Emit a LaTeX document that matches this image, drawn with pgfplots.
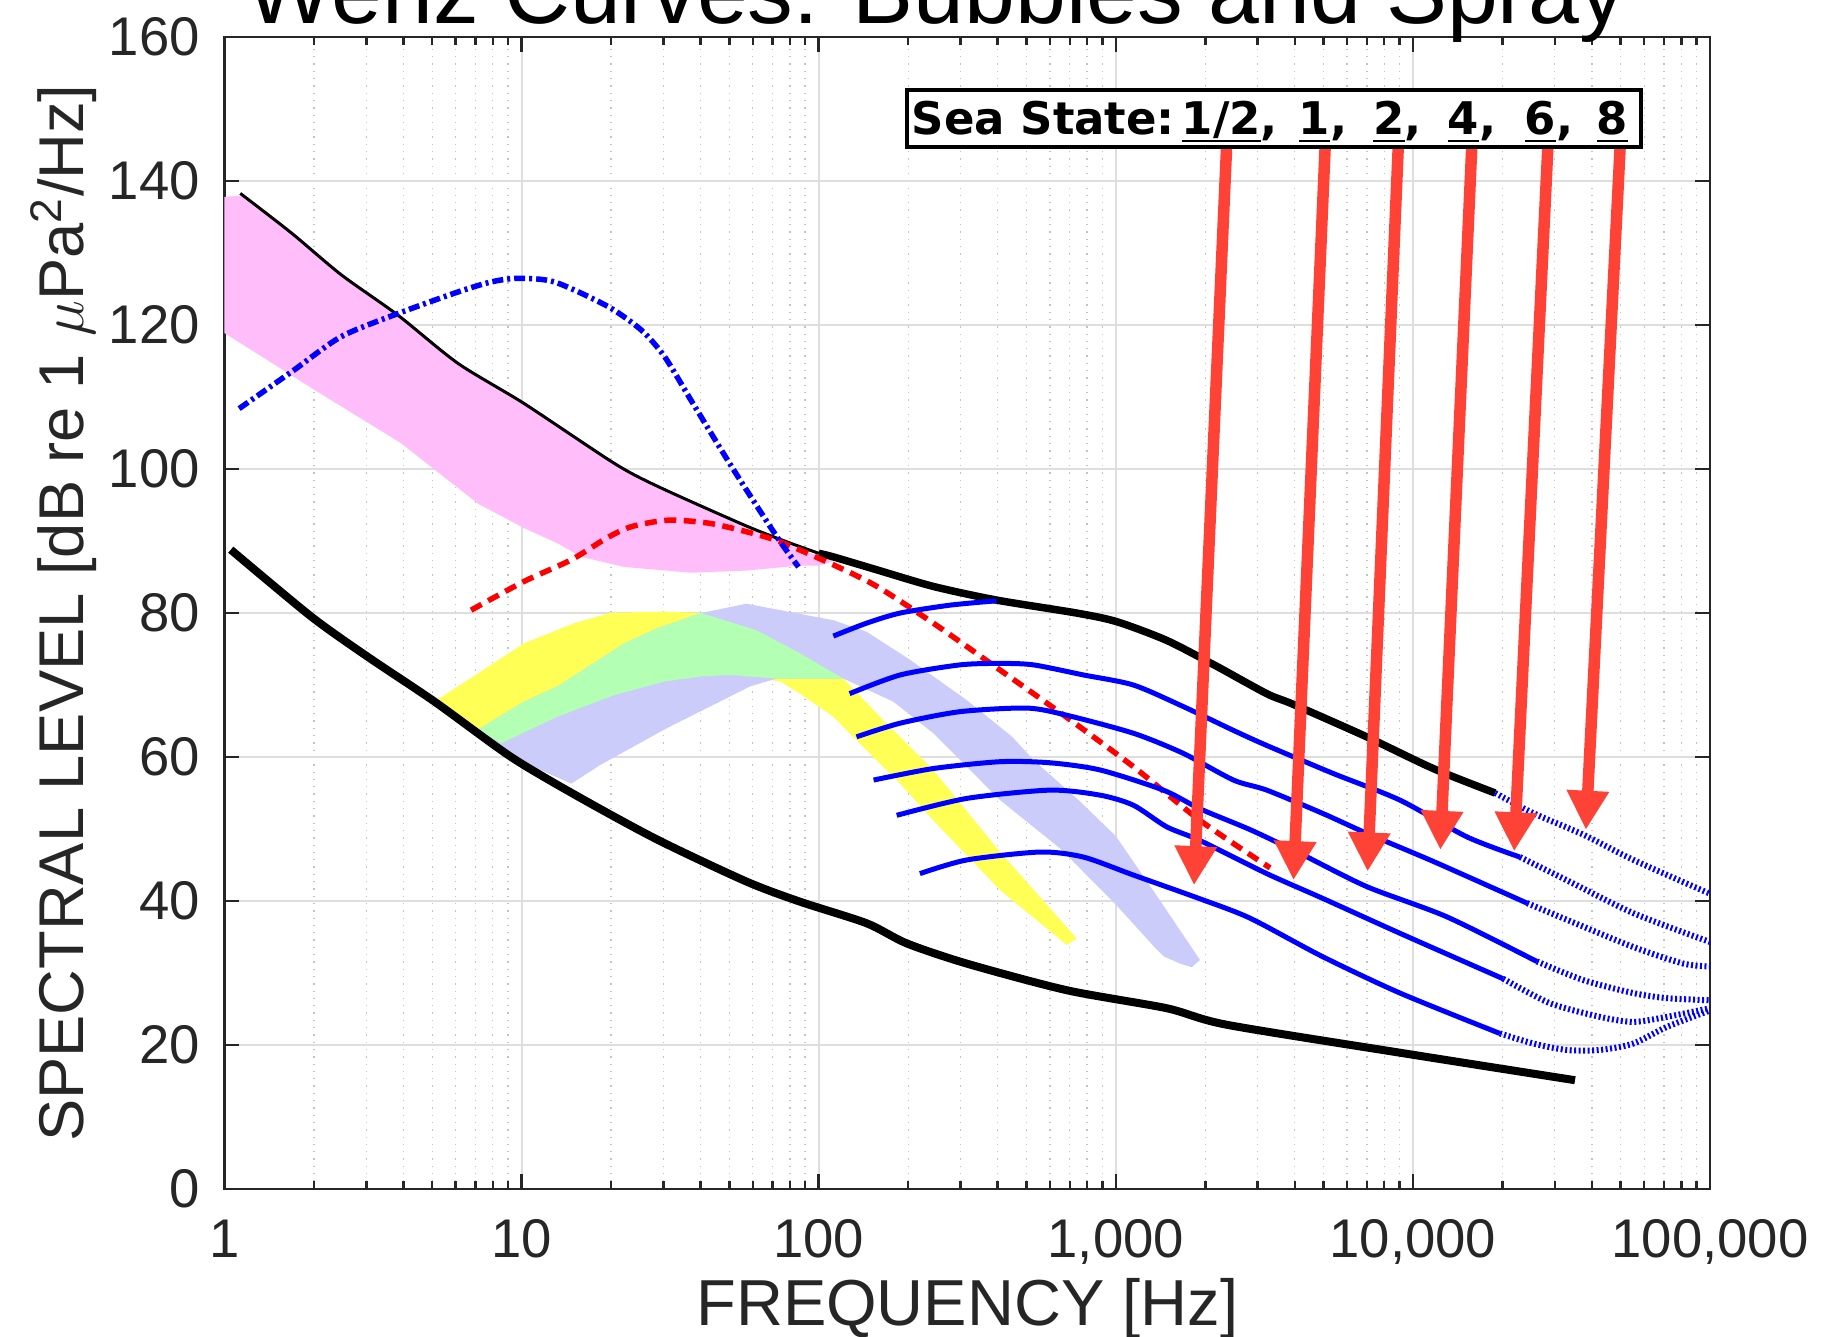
\documentclass[border=0pt]{standalone}
\usepackage{fontspec}
\setmainfont{Liberation Sans}
\newfontfamily\boxfont{DejaVu Sans}
\usepackage{pgfplots}
\pgfplotsset{compat=1.18}
\usetikzlibrary{arrows.meta}

\definecolor{axgray}{RGB}{38,38,38}
\definecolor{gridmaj}{RGB}{222,222,222}
\definecolor{gridmin}{RGB}{195,195,195}
\definecolor{pinkband}{RGB}{255,189,250}
\definecolor{yelband}{RGB}{255,255,85}
\definecolor{lavband}{RGB}{204,204,250}
\definecolor{grnband}{RGB}{179,255,179}
\definecolor{arrred}{RGB}{255,66,54}

\newcommand\ul[1]{\setbox0\hbox{#1}\rlap{\rule[-0.7mm]{\wd0}{0.15mm}}\box0}

\begin{document}
\begin{tikzpicture}
\begin{axis}[
  scale only axis, width=148.56mm, height=115.17mm,
  xmode=log, xmin=1, xmax=100000, ymin=0, ymax=160,
  xtick={1,10,100,1000,10000,100000},
  xticklabels={1,10,100,{1,000},{10,000},{100,000}},
  ytick={0,20,...,160},
  tick align=inside,
  major tick length=1.5mm, minor tick length=0.8mm,
  every tick/.style={axgray, line width=0.25mm},
  axis line style={axgray, line width=0.25mm},
  grid=major, xminorgrids=true,
  major grid style={gridmaj, line width=0.2mm},
  minor grid style={gridmin, line width=0.13mm, dash pattern=on 0.13mm off 0.6mm},
  ticklabel style={font=\fontsize{15.5}{18}\selectfont, text=axgray, inner sep=0pt},
  xticklabel style={yshift=-3mm},
  yticklabel style={xshift=-2.4mm},
  /pgf/number format/assume math mode=true,
  xlabel={FREQUENCY [Hz]},
  ylabel={SPECTRAL LEVEL [dB re 1 $\mu$Pa\textsuperscript{2}/Hz]},
  label style={text=axgray, inner sep=0pt},
  xlabel style={font=\fontsize{18.5}{22}\selectfont, at={([yshift=-13.7mm]axis description cs:0.5,0)}, anchor=base},
  ylabel style={font=\fontsize{18}{22}\selectfont, at={([xshift=-14.05mm]axis description cs:0,0.5)}, anchor=base},
]
% pink band
\addplot[fill=pinkband, draw=none] coordinates {
 (1,137.8) (1.13,138.0) (1.68,132.6) (2.47,126.8) (3.83,121.2) (6.10,114.5)
 (10.2,108.9) (20.5,100.6) (28.7,97.4) (56.3,92.0) (78,89.6) (100,87.9) (112,87.2)
 (100,86.6) (86.5,86.6) (57.1,85.9) (37.2,85.6) (22.2,86.4) (15.9,87.8) (13.2,89.7)
 (10.2,91.8) (7.13,95.2) (3.93,103.6) (2.01,111.0) (1,118.9)};
% yellow band
\addplot[fill=yelband, draw=none] coordinates {
 (5.09,67.7) (7.13,71.6) (10.2,75.8) (15.1,78.6) (20,80.05) (30.3,80.2) (40.2,80.0)
 (61.8,77.6) (86.5,74.4) (121,70.9) (165,65.1) (243,58.2) (400,47.2) (738,34.8)
 (684,33.9) (408,41.5) (243,51.2) (188,56.3) (127,63.3) (112,65.6) (86.5,68.8)
 (74.2,70.5) (50.3,71.4) (40.2,71.2) (30.3,70.5) (20.5,68.6) (13.2,65.6) (8.53,61.9)};
% lavender band
\addplot[fill=lavband, draw=none] coordinates {
 (7.13,63.8) (10.2,67.7) (13.2,69.8) (22.2,75.8) (28.7,77.9) (40.2,80.0) (57.1,81.3)
 (112,79.0) (145,77.4) (203,73.5) (315,67.9) (448,62.8) (528,59.6) (750,54.0)
 (1000,49.0) (1406,40.1) (1920,31.8) (1800,30.8) (1644,31.3) (1450,32.3) (1355,33.5)
 (1000,39.5) (649,47.3) (408,54.0) (243,63.3) (178,67.7) (121,70.9) (72.1,70.9)
 (58.7,69.8) (30.8,64.0) (18.4,58.9) (14.7,56.3) (9.22,60.0)};
% overlap
\addplot[fill=grnband, draw=none] coordinates {
 (7.13,63.8) (10.2,67.7) (13.2,69.8) (22.2,75.8) (28.7,77.9) (40.2,80.0)
 (61.8,77.6) (86.5,74.4) (121,70.9) (72.1,70.9) (50.3,71.4) (40.2,71.2)
 (30.3,70.5) (20.5,68.6) (13.2,65.6) (8.53,61.9)};

\pgfplotsset{sm/.style={smooth, tension=0.45}}
% upper black limit
\addplot[sm, black, line width=0.3mm] coordinates {
 (1.13,138.3) (1.68,132.8) (2.47,127.0) (3.83,121.4) (6.10,114.7) (10.2,109.1)
 (20.5,100.8) (28.7,97.6) (56.3,92.2) (78,89.9) (100,88.3)};
\addplot[sm, black, line width=0.75mm] coordinates {
 (100,88.3) (112,87.8) (157,86.0) (243,83.7) (397,81.8) (738,80.0) (1007,78.8)
 (1483,76.2) (2185,72.6) (3220,68.8) (3963,67.3) (6987,62.8) (11700,58.4) (18900,55.0)};
% lower black limit
\addplot[sm, black, line width=0.8mm] coordinates {
 (1.05,88.8) (1.96,79.5) (3.04,73.9) (5.09,67.7) (9.22,60.0) (15.5,54.5)
 (28.7,48.5) (57.1,42.7) (86.5,39.9) (145,36.9) (198,34.1) (315,31.3) (684,27.6)
 (1483,25.1) (2364,22.8) (9430,18.8) (35100,15.1)};
% red dashed
\addplot[sm, red, line width=0.55mm, dash pattern=on 1.2mm off 0.75mm] coordinates {
 (6.76,80.4) (10.2,84.4) (14.7,87.4) (19.3,90.4) (23.4,92.0) (31.1,92.9) (42.4,92.5)
 (57.1,91.3) (74.2,89.9) (112,86.7) (157,83.7) (243,78.6) (407,72.1) (684,65.5)
 (1146,58.65) (1919,51.2) (3303,44.6)};
% blue dash-dot
\addplot[sm, blue, line width=0.55mm, dash pattern=on 1.1mm off 0.4mm on 0.3mm off 0.4mm] coordinates {
 (1.12,108.4) (1.68,113.5) (2.47,118.4) (3.83,121.6) (6.1,124.6) (7.9,126.0) (9.71,126.5)
 (12.9,126.0) (19.5,122.6) (25.3,119.3) (30.3,115.6) (37.5,109.3) (51.7,99.9)
 (72.3,90.6) (85.5,86.4)};

% sea state curves
\pgfplotsset{ss/.style={sm, blue, line width=0.5mm}, ssdot/.style={sm, blue, line width=0.6mm, dash pattern=on 0.2mm off 0.25mm}}
\addplot[ss] coordinates {(112,76.8) (145,78.6) (188,80.0) (277,81.1) (397,81.7)};
\addplot[ssdot] coordinates {(18900,55.0) (25400,52.2) (37500,49.2) (55200,45.7) (100000,41.0)};
\addplot[ss] coordinates {
 (127,68.8) (188,71.4) (299,72.8) (408,73.0) (528,72.8) (778,71.4) (1146,70.0) (1688,67.0)
 (2487,63.7) (3221,61.6) (5400,57.7) (9052,54.0) (15200,48.9) (22900,46.1)};
\addplot[ssdot] coordinates {(22900,46.1) (32900,42.9) (55200,38.3) (100000,34.3)};
\addplot[ss] coordinates {
 (134,62.8) (188,64.7) (299,66.3) (502,66.8) (684,65.8) (1146,63.3) (1688,60.5)
 (2487,56.8) (3221,55.4) (4945,52.2) (6987,49.4) (11700,45.5) (24200,39.7)};
\addplot[ssdot] coordinates {(24200,39.7) (32900,37.4) (55200,33.6) (81300,31.3) (100000,30.9)};
\addplot[ss] coordinates {
 (153,56.8) (243,58.4) (408,59.35) (600,59.2) (885,58.2) (1445,55.4) (1920,52.8)
 (2833,49.9) (4172,46.6) (6987,42.0) (13000,37.8) (26100,31.6)};
\addplot[ssdot] coordinates {(26100,31.6) (37500,29.0) (55200,27.2) (71500,26.5) (100000,26.2)};
\addplot[ss] coordinates {
 (183,51.9) (315,54.25) (600,55.4) (885,54.7) (1146,53.3) (1483,50.3) (1920,48.4)
 (3221,43.8) (4945,40.4) (9052,35.5) (20100,29.2)};
\addplot[ssdot] coordinates {(20100,29.2) (28900,25.8) (42600,23.9) (55200,23.2) (71500,23.9) (100000,25.1)};
\addplot[ss] coordinates {
 (219,43.8) (315,45.7) (556,46.8) (778,46.1) (1146,43.6) (1920,40.3) (2833,37.6)
 (4945,32.3) (9052,27.2) (19600,21.6)};
\addplot[ssdot] coordinates {(19600,21.6) (25400,20.2) (32900,19.3) (42600,19.3) (55200,20.2) (71500,22.5) (100000,24.8)};

% arrows from the sea state labels
\tikzset{ssarrow/.style={arrred, line width=1.15mm, -{Triangle[width=4mm,length=3.9mm]}}}
\draw[ssarrow] (axis cs:2363,145.5) -- (axis cs:1833,42.2);
\draw[ssarrow] (axis cs:5072,145.5) -- (axis cs:3962,42.9);
\draw[ssarrow] (axis cs:8937,145.5) -- (axis cs:7035,44.1);
\draw[ssarrow] (axis cs:15800,145.5) -- (axis cs:12360,47.1);
\draw[ssarrow] (axis cs:28500,145.5) -- (axis cs:21900,46.9);
\draw[ssarrow] (axis cs:49900,145.5) -- (axis cs:38200,49.9);
\end{axis}

% sea state box
\draw[black, line width=0.4mm, fill=white] (68.25mm,104.23mm) rectangle (141.65mm,109.93mm);
\begin{scope}[every node/.style={anchor=base west, inner sep=0pt, font=\boxfont\bfseries\fontsize{12.8}{14}\selectfont}]
\node at (68.65mm,105.39mm) {Sea State:};
\node at (95.65mm,105.39mm) {\ul{1/2},};
\node at (107.35mm,105.39mm) {\ul{1},};
\node at (114.8mm,105.39mm) {\ul{2},};
\node at (122.25mm,105.39mm) {\ul{4},};
\node at (129.95mm,105.39mm) {\ul{6},};
\node at (137.15mm,105.39mm) {\ul{8}};
\end{scope}

% title, cut off at the top edge as in the source
\node[anchor=base, inner sep=0pt, font=\fontsize{26}{30}\selectfont] at (71.15mm,116.56mm) {Wenz Curves: Bubbles and Spray};

\pgfresetboundingbox
\path[use as bounding box] (-22.45mm,-14.71mm) rectangle (159.95mm,118.89mm);
\end{tikzpicture}
\end{document}
